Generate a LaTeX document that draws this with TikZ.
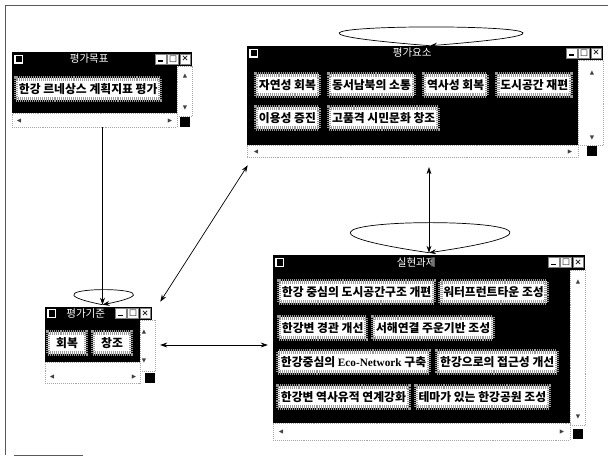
\documentclass[tikz,border=0pt]{standalone}
\usepackage{fontspec}
\setmainfont{Noto Sans CJK KR}
\newfontfamily\symfont{DejaVu Sans}
\newfontfamily\latfont{Liberation Serif}
\usetikzlibrary{fit,calc,arrows.meta,positioning}
\tikzset{
  winbar/.style    = {fill=black, inner sep=0pt},
  wintitle/.style  = {text=white, inner sep=0pt, font=\fontsize{7.5}{8}\selectfont},
  winicon/.style   = {fill=black, draw=white, line width=0.9pt, minimum size=5.5pt, inner sep=0pt},
  winctl/.style    = {fill=white, draw=black!50, line width=0.4pt, minimum width=7.6pt,
                      minimum height=7.2pt, inner sep=0pt, text=black,
                      font=\symfont\fontsize{6}{6}\selectfont},
  winbody/.style   = {fill=black, inner sep=0pt},
  wintrack/.style  = {fill=white, draw=black!35, densely dotted, line width=0.4pt, inner sep=0pt},
  wingrip/.style   = {fill=black, minimum size=7pt, inner sep=0pt},
  scroll/.style    = {text=black!75, inner sep=0pt, font=\symfont\fontsize{4}{4}\selectfont},
  btn/.style       = {fill=white, draw=black!40, line width=3pt, dash pattern=on 0.7pt off 0.7pt,
                      minimum height=15pt, inner xsep=2pt, inner ysep=0pt, text=black,
                      font=\fontsize{8.4}{9}\bfseries\selectfont},
  link/.style      = {-{Stealth[length=5pt,width=3.5pt]}, line width=0.5pt},
  twoway/.style    = {{Stealth[length=5pt,width=3.5pt]}-{Stealth[length=5pt,width=3.5pt]}, line width=0.5pt},
  selfloop/.style  = {-{Stealth[length=5pt,width=3.5pt]}, line width=0.5pt},
  frameline/.style = {draw=black!65, line width=0.6pt},
}
\begin{document}
\begin{tikzpicture}[x=0.025cm, y=-0.025cm]
\path[use as bounding box, fill=white] (0,0) rectangle (608,456);
\draw[frameline] (5,455) -- (5,5) -- (608,5);
\draw[frameline] (14,455) -- (83,455);

% 평가목표
\node[winbody, fit={(12,66) (177,113)}] (goalbody) {};
\node[wintrack, fit={(177,66) (192,116)}] (goalvtrack) {};
\node[wintrack, fit={(12,113) (177,127)}] (goalhtrack) {};
\node[wingrip] (goalgrip) at (185,122) {};
\node[winbar, fit={(12,52) (192,66)}] (goalbar) {};
\node[btn, anchor=west] (plan) at (14,89) {한강 르네상스 계획지표 평가};
\node[scroll] (goalup) at (185,76) {▲};
\node[scroll] (goaldown) at (185,108) {▼};
\node[scroll] (goalleft) at (19,121) {◀};
\node[scroll] (goalright) at (170,121) {▶};
\node[inner sep=0pt, fit={(12,52) (192,127)}] (goalwin) {};

% 평가요소
\node[winbody, fit={(247,60) (578,145)}] (elembody) {};
\node[wintrack, fit={(578,60) (603,145)}] (elemvtrack) {};
\node[wintrack, fit={(247,145) (578,157)}] (elemhtrack) {};
\node[wingrip] (elemgrip) at (592,151) {};
\node[winbar, fit={(247,46) (603,60)}] (elembar) {};
\node[btn, anchor=west] (nature) at (254,85) {자연성 회복};
\node[btn, right=4.5pt of nature] (commune) {동서남북의 소통};
\node[btn, right=4.5pt of commune] (history) {역사성 회복};
\node[btn, right=4.5pt of history] (urban) {도시공간 재편};
\node[btn, anchor=west] (usage) at (254,118) {이용성 증진};
\node[btn, right=4.5pt of usage] (culture) {고품격 시민문화 창조};
\node[scroll] (elemup) at (592,73) {▲};
\node[scroll] (elemdown) at (592,138) {▼};
\node[scroll] (elemleft) at (256,152) {◀};
\node[scroll] (elemright) at (570,152) {▶};
\node[inner sep=0pt, fit={(247,46) (603,157)}] (elemwin) {};

% 실현과제
\node[winbody, fit={(273,270) (570,423)}] (taskbody) {};
\node[wintrack, fit={(570,270) (585,425)}] (taskvtrack) {};
\node[wintrack, fit={(273,423) (570,440)}] (taskhtrack) {};
\node[wingrip] (taskgrip) at (578,434) {};
\node[winbar, fit={(273,255) (585,270)}] (taskbar) {};
\node[btn, anchor=west] (spatial) at (277,292) {한강 중심의 도시공간구조 개편};
\node[btn, right=1.5pt of spatial] (waterfront) {워터프런트타운 조성};
\node[btn, anchor=west] (scenery) at (277,328) {한강변 경관 개선};
\node[btn, right=2pt of scenery] (canal) {서해연결 주운기반 조성};
\node[btn, anchor=west] (econet) at (276,362) {한강중심의 {\latfont\fontsize{8}{9}\selectfont Eco-Network} 구축};
\node[btn, right=3pt of econet] (access) {한강으로의 접근성 개선};
\node[btn, anchor=west] (heritage) at (276,397) {한강변 역사유적 연계강화};
\node[btn, right=2pt of heritage] (themepark) {테마가 있는 한강공원 조성};
\node[scroll] (taskup) at (578,282) {▲};
\node[scroll] (taskdown) at (578,417) {▼};
\node[scroll] (taskleft) at (281,432) {◀};
\node[scroll] (taskright) at (562,432) {▶};
\node[inner sep=0pt, fit={(273,255) (585,440)}] (taskwin) {};

% 평가기준
\node[winbody, fit={(45,320) (140,362)}] (critbody) {};
\node[wintrack, fit={(140,320) (155,371)}] (critvtrack) {};
\node[wintrack, fit={(45,362) (140,383)}] (crithtrack) {};
\node[wingrip] (critgrip) at (150,378) {};
\node[winbar, fit={(45,307) (152,320)}] (critbar) {};
\node[btn, anchor=west, minimum width=27pt] (restore) at (46,343) {회복};
\node[btn, right=2pt of restore, minimum width=27pt] (create) {창조};
\node[scroll] (critup) at (144,332) {▲};
\node[scroll] (critdown) at (144,361) {▼};
\node[scroll] (critleft) at (52,377) {◀};
\node[scroll] (critright) at (134,377) {▶};
\node[inner sep=0pt, fit={(45,307) (155,383)}] (critwin) {};

% title bars
\foreach \w/\t in {goal/평가목표, elem/평가요소, task/실현과제, crit/평가기준} {
  \node[winicon, right=1.8pt of \w bar.west] (\w icon) {};
  \node[winctl, left=1pt of \w bar.east] (\w close) {✕};
  \node[winctl, left=0.7pt of \w close] (\w max) {□};
  \node[winctl, left=0.7pt of \w max, text height=4pt, text depth=0pt] (\w min) {\rule{3.4pt}{1.1pt}};
  \node[wintitle] (\w title) at ($(\w icon.east)!0.5!(\w min.west)$) {\t};
}

% loops and links
\coordinate (elemdock) at ($(elembar.north)+(5,0)$);
\coordinate (taskdock) at ($(taskbar.north)+(0,-2)$);
\coordinate (critdock) at ($(critbar.north)+(4,-2)$);
\draw[selfloop] (elemdock) .. controls ($(elemdock)+(-315,-25)$) and ($(elemdock)+(315,-25)$) .. (elemdock);
\draw[selfloop] (taskdock) .. controls ($(taskdock)+(-273,-40)$) and ($(taskdock)+(273,-40)$) .. (taskdock);
\draw[selfloop] (critdock) .. controls ($(critdock)+(-100,-20)$) and ($(critdock)+(100,-20)$) .. (critdock);
\draw[link] (critdock |- goalwin.south) -- (critdock);
\draw[twoway] ($(elemwin.south west)+(1,8)$) -- ($(critwin.north east)+(5,-5)$);
\draw[twoway, shorten <=7pt] (taskdock |- elemwin.south) -- (taskdock);
\draw[twoway, shorten <=3.5pt, shorten >=3.5pt] (critwin.east) -- (critwin.east -| taskwin.west);
\end{tikzpicture}
\end{document}
